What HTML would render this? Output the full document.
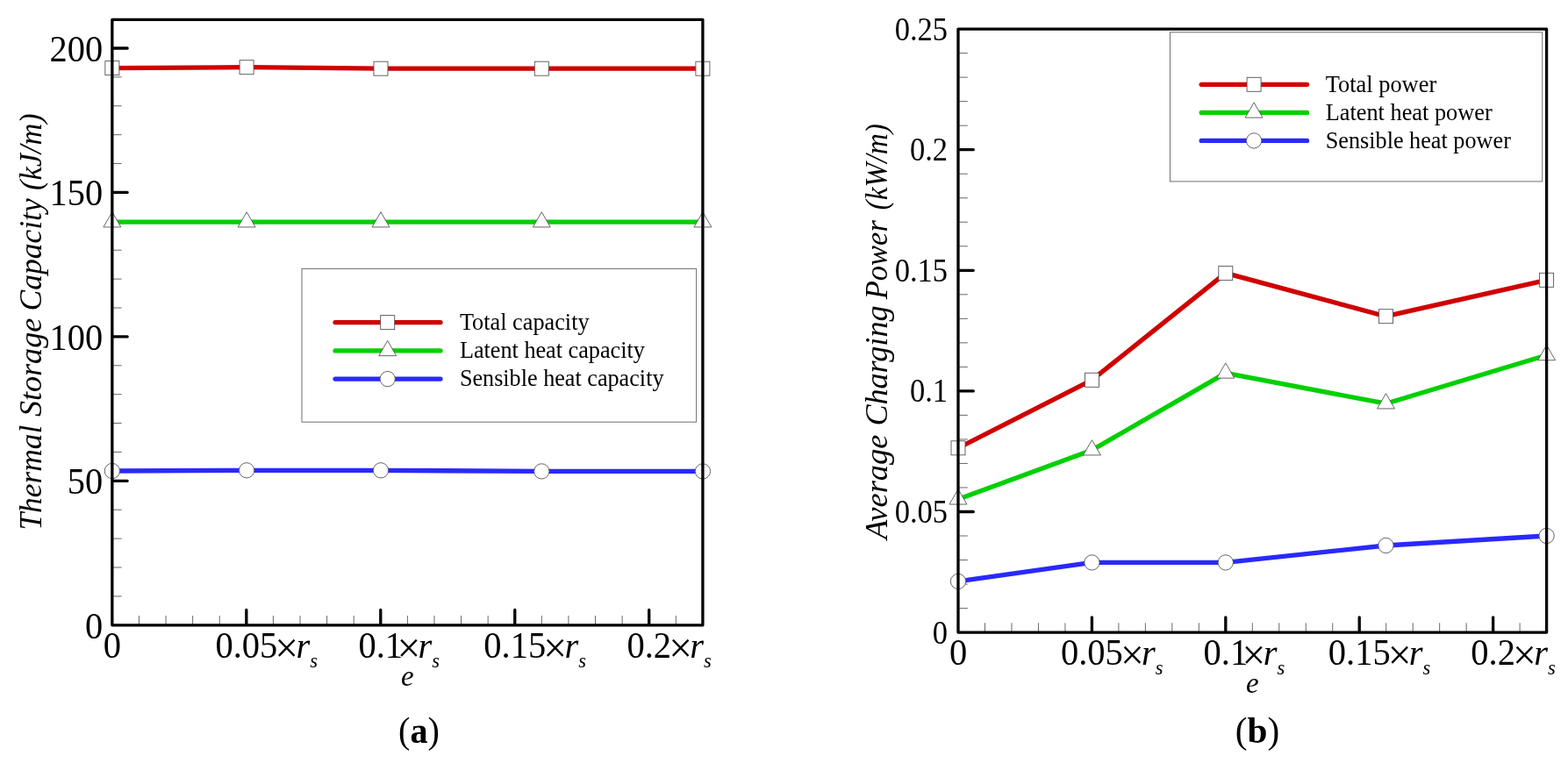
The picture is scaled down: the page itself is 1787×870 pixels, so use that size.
<!DOCTYPE html>
<html lang="en"><head><meta charset="utf-8"><title>Figure</title>
<style>
html,body{margin:0;padding:0;background:#fff;}
body{width:1787px;height:870px;overflow:hidden;}
svg{display:block;}
text{font-family:"Liberation Serif","Times New Roman",serif;fill:#000;}
.it{font-style:italic;}
</style></head><body>
<svg width="1787" height="870" viewBox="0 0 1787 870">
<rect width="1787" height="870" fill="#fff"/>
<g>
<path d="M158.44 712.8 v-10.8 M189.04 712.8 v-10.8 M219.63 712.8 v-10.8 M250.22 712.8 v-10.8 M311.41 712.8 v-10.8 M342.00 712.8 v-10.8 M372.60 712.8 v-10.8 M403.19 712.8 v-10.8 M464.38 712.8 v-10.8 M494.97 712.8 v-10.8 M525.56 712.8 v-10.8 M556.15 712.8 v-10.8 M617.34 712.8 v-10.8 M647.93 712.8 v-10.8 M678.53 712.8 v-10.8 M709.12 712.8 v-10.8 M770.31 712.8 v-10.8 M127.85 679.91 h10.8 M127.85 647.02 h10.8 M127.85 614.13 h10.8 M127.85 581.24 h10.8 M127.85 515.46 h10.8 M127.85 482.57 h10.8 M127.85 449.68 h10.8 M127.85 416.79 h10.8 M127.85 351.01 h10.8 M127.85 318.12 h10.8 M127.85 285.23 h10.8 M127.85 252.34 h10.8 M127.85 186.56 h10.8 M127.85 153.67 h10.8 M127.85 120.78 h10.8 M127.85 87.89 h10.8" stroke="#686868" stroke-width="1" fill="none"/>
<path d="M280.82 711.0999999999999 v-15.6 M433.78 711.0999999999999 v-15.6 M586.75 711.0999999999999 v-15.6 M739.71 711.0999999999999 v-15.6 M129.54999999999998 548.35 h15.6 M129.54999999999998 383.90 h15.6 M129.54999999999998 219.45 h15.6 M129.54999999999998 55.00 h15.6" stroke="#000" stroke-width="3.3" stroke-linecap="round" fill="none"/>
<polyline points="127.85,77.60 281.10,76.70 434.00,78.20 617.30,78.20 800.90,78.20" fill="none" stroke="#d00000" stroke-width="5.3" stroke-linejoin="round"/>
<polyline points="127.85,253.20 281.10,253.20 434.00,253.20 617.30,253.20 800.90,253.20" fill="none" stroke="#00d000" stroke-width="5.3" stroke-linejoin="round"/>
<polyline points="127.85,537.00 281.10,536.30 434.00,536.30 617.30,537.40 800.90,537.40" fill="none" stroke="#2929ff" stroke-width="5.3" stroke-linejoin="round"/>
<rect x="119.85" y="69.60" width="16.0" height="16.0" fill="#fff" stroke="#545454" stroke-width="0.9"/>
<rect x="273.10" y="68.70" width="16.0" height="16.0" fill="#fff" stroke="#545454" stroke-width="0.9"/>
<rect x="426.00" y="70.20" width="16.0" height="16.0" fill="#fff" stroke="#545454" stroke-width="0.9"/>
<rect x="609.30" y="70.20" width="16.0" height="16.0" fill="#fff" stroke="#545454" stroke-width="0.9"/>
<rect x="792.90" y="70.20" width="16.0" height="16.0" fill="#fff" stroke="#545454" stroke-width="0.9"/>
<polygon points="127.85,241.71 117.90,258.94 137.80,258.94" fill="#fff" stroke="#545454" stroke-width="0.9" stroke-linejoin="miter"/>
<polygon points="281.10,241.71 271.15,258.94 291.05,258.94" fill="#fff" stroke="#545454" stroke-width="0.9" stroke-linejoin="miter"/>
<polygon points="434.00,241.71 424.05,258.94 443.95,258.94" fill="#fff" stroke="#545454" stroke-width="0.9" stroke-linejoin="miter"/>
<polygon points="617.30,241.71 607.35,258.94 627.25,258.94" fill="#fff" stroke="#545454" stroke-width="0.9" stroke-linejoin="miter"/>
<polygon points="800.90,241.71 790.95,258.94 810.85,258.94" fill="#fff" stroke="#545454" stroke-width="0.9" stroke-linejoin="miter"/>
<circle cx="127.85" cy="537.00" r="8.65" fill="#fff" stroke="#545454" stroke-width="0.9"/>
<circle cx="281.10" cy="536.30" r="8.65" fill="#fff" stroke="#545454" stroke-width="0.9"/>
<circle cx="434.00" cy="536.30" r="8.65" fill="#fff" stroke="#545454" stroke-width="0.9"/>
<circle cx="617.30" cy="537.40" r="8.65" fill="#fff" stroke="#545454" stroke-width="0.9"/>
<circle cx="800.90" cy="537.40" r="8.65" fill="#fff" stroke="#545454" stroke-width="0.9"/>
<rect x="127.85" y="22.3" width="673.05" height="690.50" fill="none" stroke="#000" stroke-width="3.3" stroke-linejoin="round"/>
<rect x="344.0" y="306.4" width="449.6" height="174.8" fill="#fff" stroke="#6e6e6e" stroke-width="1"/>
<line x1="382.0" y1="367.6" x2="502.0" y2="367.6" stroke="#d00000" stroke-width="5.3" stroke-linecap="round"/>
<rect x="433.70" y="359.60" width="16.0" height="16.0" fill="#fff" stroke="#545454" stroke-width="0.9"/>
<text x="523.9" y="375.8" font-size="26.3" textLength="147.7" lengthAdjust="spacingAndGlyphs">Total capacity</text>
<line x1="382.0" y1="399.9" x2="502.0" y2="399.9" stroke="#00d000" stroke-width="5.3" stroke-linecap="round"/>
<polygon points="441.70,388.41 431.75,405.64 451.65,405.64" fill="#fff" stroke="#545454" stroke-width="0.9" stroke-linejoin="miter"/>
<text x="523.9" y="408.09999999999997" font-size="26.3" textLength="211" lengthAdjust="spacingAndGlyphs">Latent heat capacity</text>
<line x1="382.0" y1="432.1" x2="502.0" y2="432.1" stroke="#2929ff" stroke-width="5.3" stroke-linecap="round"/>
<circle cx="441.70" cy="432.10" r="8.65" fill="#fff" stroke="#545454" stroke-width="0.9"/>
<text x="523.9" y="440.3" font-size="26.3" textLength="232.6" lengthAdjust="spacingAndGlyphs">Sensible heat capacity</text>
<text transform="translate(117.1,712.80) scale(0.985,1.02)" y="14.4" font-size="41" text-anchor="end">0</text>
<text transform="translate(117.1,548.35) scale(0.985,1.02)" y="14.4" font-size="41" text-anchor="end">50</text>
<text transform="translate(117.1,383.90) scale(0.985,1.02)" y="14.4" font-size="41" text-anchor="end">100</text>
<text transform="translate(117.1,219.45) scale(0.985,1.02)" y="14.4" font-size="41" text-anchor="end">150</text>
<text transform="translate(117.1,55.00) scale(0.985,1.02)" y="14.4" font-size="41" text-anchor="end">200</text>
<text transform="translate(127.85,750.0) scale(1,1.05)" font-size="40.5" text-anchor="middle">0</text>
<text transform="translate(245.38,750.0) scale(1,1.05)" font-size="40.5">0.05</text>
<text x="313.35" y="755.4" font-size="47.5">×<tspan class="it" font-size="40.5" dx="-2.7" dy="-5.4">r</tspan><tspan class="it" font-size="22.5" dy="11.3">s</tspan></text>
<text transform="translate(408.47,750.0) scale(1,1.05)" font-size="40.5">0.1</text>
<text x="452.49" y="755.4" font-size="47.5">×<tspan class="it" font-size="40.5" dx="-2.7" dy="-5.4">r</tspan><tspan class="it" font-size="22.5" dy="11.3">s</tspan></text>
<text transform="translate(551.31,750.0) scale(1,1.05)" font-size="40.5">0.15</text>
<text x="619.29" y="755.4" font-size="47.5">×<tspan class="it" font-size="40.5" dx="-2.7" dy="-5.4">r</tspan><tspan class="it" font-size="22.5" dy="11.3">s</tspan></text>
<text transform="translate(714.40,750.0) scale(1,1.05)" font-size="40.5">0.2</text>
<text x="762.13" y="755.4" font-size="47.5">×<tspan class="it" font-size="40.5" dx="-2.7" dy="-5.4">r</tspan><tspan class="it" font-size="22.5" dy="11.3">s</tspan></text>
<text class="it" x="464.38" y="782.4" font-size="33" text-anchor="middle">e</text>
<text class="it" transform="translate(47.3,604.60) rotate(-90)" font-size="35.2" textLength="119.90" lengthAdjust="spacingAndGlyphs">Thermal</text>
<text class="it" transform="translate(47.3,475.00) rotate(-90)" font-size="35.2" textLength="112.20" lengthAdjust="spacingAndGlyphs">Storage</text>
<text class="it" transform="translate(47.3,354.40) rotate(-90)" font-size="35.2" textLength="128.10" lengthAdjust="spacingAndGlyphs">Capacity</text>
<text class="it" transform="translate(47.3,217.00) rotate(-90)" font-size="35.2" textLength="87.60" lengthAdjust="spacingAndGlyphs">(kJ/m)</text>
<text x="477.5" y="847.0" font-size="42" text-anchor="middle" textLength="46.9" lengthAdjust="spacingAndGlyphs">(<tspan font-weight="bold">a</tspan>)</text>
</g>
<g>
<path d="M1122.48 721.1 v-10.8 M1152.96 721.1 v-10.8 M1183.45 721.1 v-10.8 M1213.93 721.1 v-10.8 M1274.89 721.1 v-10.8 M1305.37 721.1 v-10.8 M1335.85 721.1 v-10.8 M1366.34 721.1 v-10.8 M1427.30 721.1 v-10.8 M1457.78 721.1 v-10.8 M1488.26 721.1 v-10.8 M1518.75 721.1 v-10.8 M1579.71 721.1 v-10.8 M1610.19 721.1 v-10.8 M1640.67 721.1 v-10.8 M1671.15 721.1 v-10.8 M1732.12 721.1 v-10.8 M1092.0 693.58 h10.8 M1092.0 666.06 h10.8 M1092.0 638.54 h10.8 M1092.0 611.02 h10.8 M1092.0 555.98 h10.8 M1092.0 528.46 h10.8 M1092.0 500.94 h10.8 M1092.0 473.42 h10.8 M1092.0 418.38 h10.8 M1092.0 390.86 h10.8 M1092.0 363.34 h10.8 M1092.0 335.82 h10.8 M1092.0 280.78 h10.8 M1092.0 253.26 h10.8 M1092.0 225.74 h10.8 M1092.0 198.22 h10.8 M1092.0 143.18 h10.8 M1092.0 115.66 h10.8 M1092.0 88.14 h10.8 M1092.0 60.62 h10.8" stroke="#686868" stroke-width="1" fill="none"/>
<path d="M1244.41 719.4 v-15.6 M1396.82 719.4 v-15.6 M1549.23 719.4 v-15.6 M1701.64 719.4 v-15.6 M1093.7 583.50 h15.6 M1093.7 445.90 h15.6 M1093.7 308.30 h15.6 M1093.7 170.70 h15.6" stroke="#000" stroke-width="3.3" stroke-linecap="round" fill="none"/>
<polyline points="1092.00,510.80 1244.45,433.30 1396.80,311.40 1579.50,360.70 1762.60,319.30" fill="none" stroke="#d00000" stroke-width="5.3" stroke-linejoin="round"/>
<polyline points="1092.00,569.30 1244.45,513.20 1396.80,425.40 1579.50,460.20 1762.60,405.00" fill="none" stroke="#00d000" stroke-width="5.3" stroke-linejoin="round"/>
<polyline points="1092.00,662.90 1244.45,641.40 1396.80,641.40 1579.50,622.00 1762.60,611.00" fill="none" stroke="#2929ff" stroke-width="5.3" stroke-linejoin="round"/>
<rect x="1084.00" y="502.80" width="16.0" height="16.0" fill="#fff" stroke="#545454" stroke-width="0.9"/>
<rect x="1236.45" y="425.30" width="16.0" height="16.0" fill="#fff" stroke="#545454" stroke-width="0.9"/>
<rect x="1388.80" y="303.40" width="16.0" height="16.0" fill="#fff" stroke="#545454" stroke-width="0.9"/>
<rect x="1571.50" y="352.70" width="16.0" height="16.0" fill="#fff" stroke="#545454" stroke-width="0.9"/>
<rect x="1754.60" y="311.30" width="16.0" height="16.0" fill="#fff" stroke="#545454" stroke-width="0.9"/>
<polygon points="1092.00,557.81 1082.05,575.04 1101.95,575.04" fill="#fff" stroke="#545454" stroke-width="0.9" stroke-linejoin="miter"/>
<polygon points="1244.45,501.71 1234.50,518.94 1254.40,518.94" fill="#fff" stroke="#545454" stroke-width="0.9" stroke-linejoin="miter"/>
<polygon points="1396.80,413.91 1386.85,431.14 1406.75,431.14" fill="#fff" stroke="#545454" stroke-width="0.9" stroke-linejoin="miter"/>
<polygon points="1579.50,448.71 1569.55,465.94 1589.45,465.94" fill="#fff" stroke="#545454" stroke-width="0.9" stroke-linejoin="miter"/>
<polygon points="1762.60,393.51 1752.65,410.74 1772.55,410.74" fill="#fff" stroke="#545454" stroke-width="0.9" stroke-linejoin="miter"/>
<circle cx="1092.00" cy="662.90" r="8.65" fill="#fff" stroke="#545454" stroke-width="0.9"/>
<circle cx="1244.45" cy="641.40" r="8.65" fill="#fff" stroke="#545454" stroke-width="0.9"/>
<circle cx="1396.80" cy="641.40" r="8.65" fill="#fff" stroke="#545454" stroke-width="0.9"/>
<circle cx="1579.50" cy="622.00" r="8.65" fill="#fff" stroke="#545454" stroke-width="0.9"/>
<circle cx="1762.60" cy="611.00" r="8.65" fill="#fff" stroke="#545454" stroke-width="0.9"/>
<rect x="1092.0" y="33.1" width="670.60" height="688.00" fill="none" stroke="#000" stroke-width="3.3" stroke-linejoin="round"/>
<rect x="1333.5" y="36.8" width="424.2" height="170.1" fill="#fff" stroke="#6e6e6e" stroke-width="1"/>
<line x1="1369.1999999999998" y1="96.3" x2="1489.5" y2="96.3" stroke="#d00000" stroke-width="5.3" stroke-linecap="round"/>
<rect x="1421.10" y="88.30" width="16.0" height="16.0" fill="#fff" stroke="#545454" stroke-width="0.9"/>
<text x="1510.7" y="104.5" font-size="26.3" textLength="126.5" lengthAdjust="spacingAndGlyphs">Total power</text>
<line x1="1369.1999999999998" y1="128.4" x2="1489.5" y2="128.4" stroke="#00d000" stroke-width="5.3" stroke-linecap="round"/>
<polygon points="1429.10,116.91 1419.15,134.14 1439.05,134.14" fill="#fff" stroke="#545454" stroke-width="0.9" stroke-linejoin="miter"/>
<text x="1510.7" y="136.6" font-size="26.3" textLength="190" lengthAdjust="spacingAndGlyphs">Latent heat power</text>
<line x1="1369.1999999999998" y1="160.4" x2="1489.5" y2="160.4" stroke="#2929ff" stroke-width="5.3" stroke-linecap="round"/>
<circle cx="1429.10" cy="160.40" r="8.65" fill="#fff" stroke="#545454" stroke-width="0.9"/>
<text x="1510.7" y="168.6" font-size="26.3" textLength="211.2" lengthAdjust="spacingAndGlyphs">Sensible heat power</text>
<text transform="translate(1080.0,721.10) scale(1,1.08)" y="11.6" font-size="34.5" text-anchor="end">0</text>
<text transform="translate(1080.0,583.50) scale(1,1.08)" y="11.6" font-size="34.5" text-anchor="end">0.05</text>
<text transform="translate(1080.0,445.90) scale(1,1.08)" y="11.6" font-size="34.5" text-anchor="end">0.1</text>
<text transform="translate(1080.0,308.30) scale(1,1.08)" y="11.6" font-size="34.5" text-anchor="end">0.15</text>
<text transform="translate(1080.0,170.70) scale(1,1.08)" y="11.6" font-size="34.5" text-anchor="end">0.2</text>
<text transform="translate(1080.0,33.10) scale(1,1.08)" y="11.6" font-size="34.5" text-anchor="end">0.25</text>
<text transform="translate(1092.00,758.0) scale(1,1.05)" font-size="40.5" text-anchor="middle">0</text>
<text transform="translate(1208.97,758.0) scale(1,1.05)" font-size="40.5">0.05</text>
<text x="1276.95" y="763.4" font-size="47.5">×<tspan class="it" font-size="40.5" dx="-2.7" dy="-5.4">r</tspan><tspan class="it" font-size="22.5" dy="11.3">s</tspan></text>
<text transform="translate(1371.51,758.0) scale(1,1.05)" font-size="40.5">0.1</text>
<text x="1415.53" y="763.4" font-size="47.5">×<tspan class="it" font-size="40.5" dx="-2.7" dy="-5.4">r</tspan><tspan class="it" font-size="22.5" dy="11.3">s</tspan></text>
<text transform="translate(1513.79,758.0) scale(1,1.05)" font-size="40.5">0.15</text>
<text x="1581.76" y="763.4" font-size="47.5">×<tspan class="it" font-size="40.5" dx="-2.7" dy="-5.4">r</tspan><tspan class="it" font-size="22.5" dy="11.3">s</tspan></text>
<text transform="translate(1676.32,758.0) scale(1,1.05)" font-size="40.5">0.2</text>
<text x="1724.05" y="763.4" font-size="47.5">×<tspan class="it" font-size="40.5" dx="-2.7" dy="-5.4">r</tspan><tspan class="it" font-size="22.5" dy="11.3">s</tspan></text>
<text class="it" x="1427.30" y="790.2" font-size="33" text-anchor="middle">e</text>
<text class="it" transform="translate(1011.0,615.00) rotate(-90)" font-size="35.5" textLength="119.50" lengthAdjust="spacingAndGlyphs">Average</text>
<text class="it" transform="translate(1011.0,485.60) rotate(-90)" font-size="35.5" textLength="137.10" lengthAdjust="spacingAndGlyphs">Charging</text>
<text class="it" transform="translate(1011.0,341.20) rotate(-90)" font-size="35.5" textLength="90.00" lengthAdjust="spacingAndGlyphs">Power</text>
<text class="it" transform="translate(1011.0,239.40) rotate(-90)" font-size="35.5" textLength="98.30" lengthAdjust="spacingAndGlyphs">(kW/m)</text>
<text x="1433.0" y="847.0" font-size="42" text-anchor="middle" textLength="50.5" lengthAdjust="spacingAndGlyphs">(<tspan font-weight="bold">b</tspan>)</text>
</g>
</svg>
</body></html>
